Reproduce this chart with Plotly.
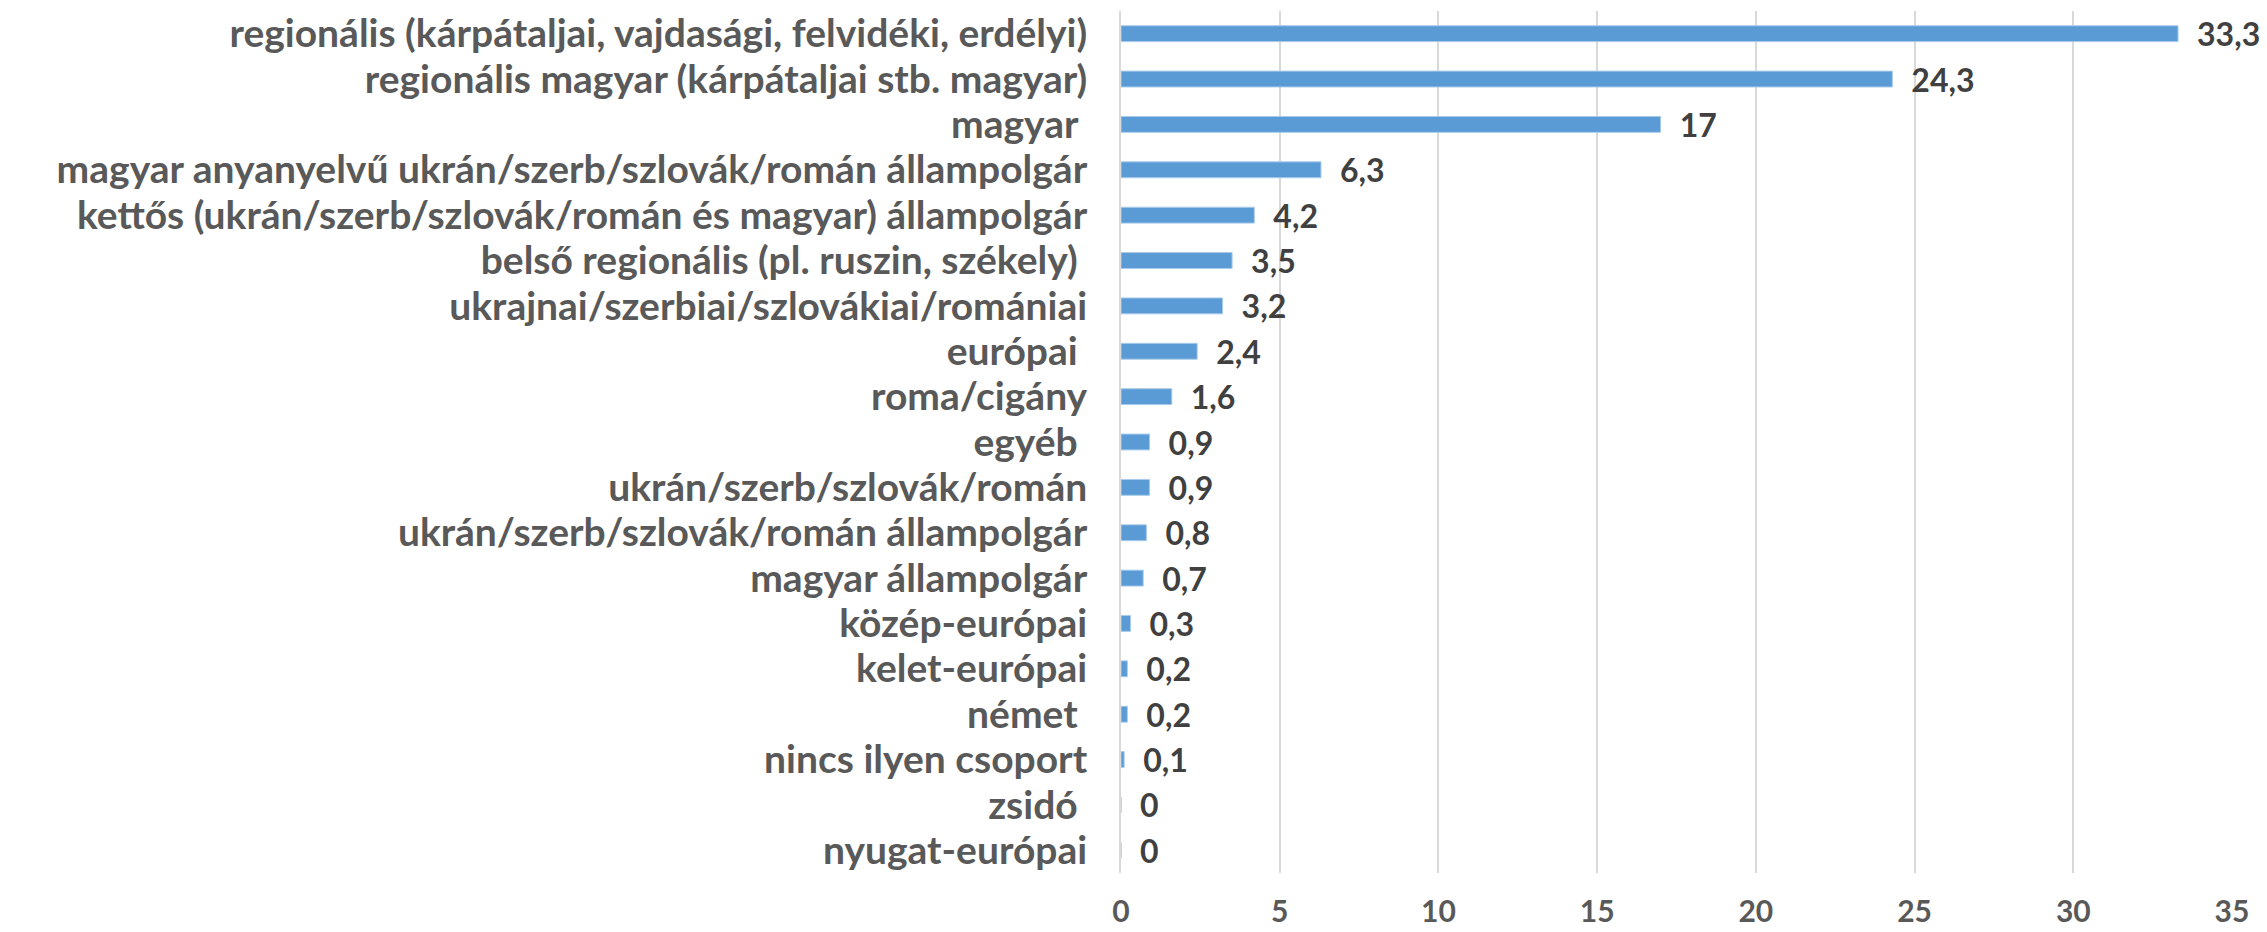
import plotly.graph_objects as go

categories = [
    "regionális (kárpátaljai, vajdasági, felvidéki, erdélyi)",
    "regionális magyar (kárpátaljai stb. magyar)",
    "magyar ",
    "magyar anyanyelvű ukrán/szerb/szlovák/román állampolgár",
    "kettős (ukrán/szerb/szlovák/román és magyar) állampolgár",
    "belső regionális (pl. ruszin, székely) ",
    "ukrajnai/szerbiai/szlovákiai/romániai",
    "európai ",
    "roma/cigány",
    "egyéb ",
    "ukrán/szerb/szlovák/román",
    "ukrán/szerb/szlovák/román állampolgár",
    "magyar állampolgár",
    "közép-európai",
    "kelet-európai",
    "német ",
    "nincs ilyen csoport",
    "zsidó ",
    "nyugat-európai",
]
values = [33.3, 24.3, 17, 6.3, 4.2, 3.5, 3.2, 2.4, 1.6, 0.9, 0.9, 0.8, 0.7, 0.3, 0.2, 0.2, 0.1, 0, 0]
labels = [("%g" % v).replace(".", ",") for v in values]
x_ticks = [0, 5, 10, 15, 20, 25, 30, 35]

fig = go.Figure(go.Bar(
    x=values, y=categories, orientation="h",
    marker=dict(color="#5B9BD5", line=dict(color="#A9CBEB", width=1)),
    text=["\u2002" + t for t in labels], textposition="outside", cliponaxis=False,
    constraintext="none",
    textfont=dict(family="Lato", size=32, color="#404040", weight="bold"),
))
# page body has an 8px default margin, so the figure is 8px smaller and shifted
fig.update_layout(
    width=2259, height=924,
    margin=dict(l=1113, r=35, t=3, b=59),
    plot_bgcolor="white", paper_bgcolor="white",
    bargap=0.65, showlegend=False,
    font=dict(family="Lato", size=39, color="#595959", weight="bold"),
)
fig.update_xaxes(range=[0, 35], tickvals=x_ticks, showgrid=True, gridcolor="#D9D9D9", gridwidth=2,
                 zeroline=False, showline=False, ticks="", ticklabelstandoff=18, automargin=False,
                 tickfont=dict(family="Lato", size=30, color="#595959", weight="bold"))
fig.update_yaxes(autorange="reversed", showgrid=False, showline=True, linecolor="#D9D9D9", linewidth=2,
                 ticks="", ticklabelstandoff=24, automargin=False,
                 tickmode="array", tickvals=categories, ticktext=categories,
                 tickfont=dict(family="Lato", size=39, color="#595959", weight="bold"))
fig.write_html("out.html")
